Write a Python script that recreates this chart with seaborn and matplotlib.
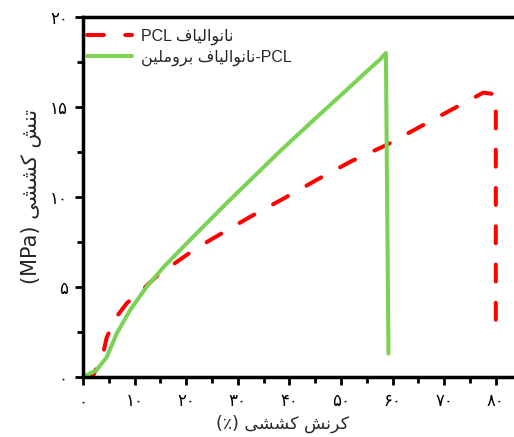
import matplotlib
matplotlib.use("Agg")
import matplotlib.pyplot as plt
import seaborn as sns
import pandas as pd
from matplotlib.ticker import MultipleLocator, FixedLocator, FuncFormatter

# ---------------- data ----------------
strain_pcl = [0, 2.0, 3.9, 4.6, 6.5, 8.5, 11.7, 14.3, 18.2, 20.7, 24.6, 32.4, 38.8,
              45.6, 52.1, 58.9, 65.3, 72.4, 77.6, 80.0, 80.0]
stress_pcl = [0, 0.1, 1.3, 2.2, 3.35, 4.1, 4.9, 5.6, 6.4, 6.9, 7.6, 8.9, 9.9,
              11.0, 12.0, 12.9, 13.9, 15.0, 15.8, 15.7, 2.6]

strain_brom = [0, 2.6, 4.6, 6.5, 9.1, 12.3, 15.6, 20.7, 27.8, 38.2, 44.6, 51.1, 54.3,
               57.6, 58.7, 59.2]
stress_brom = [0, 0.37, 1.1, 2.4, 3.7, 5.0, 6.1, 7.6, 9.65, 12.55, 14.25, 15.95, 16.8,
               17.65, 18.0, 1.3]

x_ticks = [0, 10, 20, 30, 40, 50, 60, 70, 80]
y_ticks = [0, 5, 10, 15, 20]

label_pcl = "نانوالیاف PCL"
label_brom = "PCL-نانوالیاف بروملین"
x_label = "کرنش کششی (٪)"
y_label = "تنش کششی (MPa)"

# ------------- minimal Persian shaping (matplotlib has no complex text layout) -------------
FORMS = {  # isolated, final, initial, medial
    'ا': ('\uFE8D', '\uFE8E', None, None),
    'و': ('\uFEED', '\uFEEE', None, None),
    'ر': ('\uFEAD', '\uFEAE', None, None),
    'ب': ('\uFE8F', '\uFE90', '\uFE91', '\uFE92'),
    'ت': ('\uFE95', '\uFE96', '\uFE97', '\uFE98'),
    'ش': ('\uFEB5', '\uFEB6', '\uFEB7', '\uFEB8'),
    'ف': ('\uFED1', '\uFED2', '\uFED3', '\uFED4'),
    'ل': ('\uFEDD', '\uFEDE', '\uFEDF', '\uFEE0'),
    'م': ('\uFEE1', '\uFEE2', '\uFEE3', '\uFEE4'),
    'ن': ('\uFEE5', '\uFEE6', '\uFEE7', '\uFEE8'),
    'ی': ('\uFBFC', '\uFBFD', '\uFBFE', '\uFBFF'),
    'ک': ('\uFB8E', '\uFB8F', '\uFB90', '\uFB91'),
}


def dual(c):
    return c in FORMS and FORMS[c][2] is not None


def shape_rtl(s):
    out = []
    for i, c in enumerate(s):
        if c not in FORMS:
            out.append(c)
            continue
        prev = s[i - 1] if i > 0 else ''
        nxt = s[i + 1] if i + 1 < len(s) else ''
        jp = dual(prev)
        jn = dual(c) and nxt in FORMS
        iso, fin, ini, med = FORMS[c]
        if jp and jn:
            out.append(med)
        elif jp:
            out.append(fin)
        elif jn:
            out.append(ini)
        else:
            out.append(iso)
    return ''.join(out)[::-1]


def fa_digits(v):
    return str(int(v)).translate(str.maketrans('0123456789', '۰۱۲۳۴۵۶۷۸۹'))


vis_label_pcl = "PCL " + shape_rtl("نانوالیاف")
vis_label_brom = shape_rtl("نانوالیاف بروملین") + "-PCL"
vis_x_label = "(٪) " + shape_rtl("کرنش کششی")
vis_y_label = "(MPa) " + shape_rtl("تنش کششی")

df_pcl = pd.DataFrame({"strain": strain_pcl, "stress": stress_pcl})
df_brom = pd.DataFrame({"strain": strain_brom, "stress": stress_brom})

# ---------------- plot ----------------
sns.set_theme(style="ticks")
plt.rcParams['font.family'] = ['Liberation Sans', 'DejaVu Sans']

fig = plt.figure(figsize=(5.14, 4.37), dpi=100)
ax = fig.add_axes([83 / 514, 60 / 437, 440 / 514, 360 / 437])

sns.lineplot(data=df_pcl, x="strain", y="stress", sort=False, estimator=None, ax=ax,
             color="#ff0000", lw=2.9, linestyle=(0, (4.2, 5.3)),
             dash_capstyle='round', label=vis_label_pcl)
sns.lineplot(data=df_brom, x="strain", y="stress", sort=False, estimator=None, ax=ax,
             color="#7ad354", lw=2.9, solid_capstyle='round', solid_joinstyle='round',
             label=vis_label_brom)

ax.set_xlim(0, 440 / 5.16)
ax.set_ylim(0, 20)
ax.xaxis.set_major_locator(FixedLocator(x_ticks))
ax.xaxis.set_minor_locator(MultipleLocator(5))
ax.yaxis.set_major_locator(FixedLocator(y_ticks))
ax.yaxis.set_minor_locator(MultipleLocator(2.5))
fmt = FuncFormatter(lambda v, p: fa_digits(v))
ax.xaxis.set_major_formatter(fmt)
ax.yaxis.set_major_formatter(fmt)

for lab in ax.get_xticklabels() + ax.get_yticklabels():
    lab.set_family(['DejaVu Sans'])
    lab.set_fontsize(12)
    lab.set_color('black')

ax.tick_params(which='major', direction='out', length=6, width=2, colors='black', pad=5)
ax.tick_params(which='minor', direction='out', length=4, width=2, colors='black')

for side in ['left', 'bottom', 'top']:
    ax.spines[side].set_linewidth(2.5)
    ax.spines[side].set_color('black')
ax.spines['right'].set_visible(False)
ax.spines['top'].set_visible(True)

ax.set_xlabel(vis_x_label, fontsize=12.5, family=['DejaVu Sans'])
ax.xaxis.set_label_coords((283 - 83) / 440, (437 - 415 - 60) / 360)
ax.set_ylabel(vis_y_label, fontsize=15, family=['DejaVu Sans'], labelpad=6)

leg = ax.legend(loc='upper left', bbox_to_anchor=(4 / 440, 1 - 12 / 360), frameon=False,
                fontsize=11.5, handlelength=2.8, borderaxespad=0, borderpad=0,
                labelspacing=0.3, handletextpad=0.57)
for t in leg.get_texts():
    t.set_family(['Liberation Sans', 'DejaVu Sans'])

ax.set_facecolor('white')
fig.patch.set_facecolor('white')
fig.savefig("out.png", dpi=100)
